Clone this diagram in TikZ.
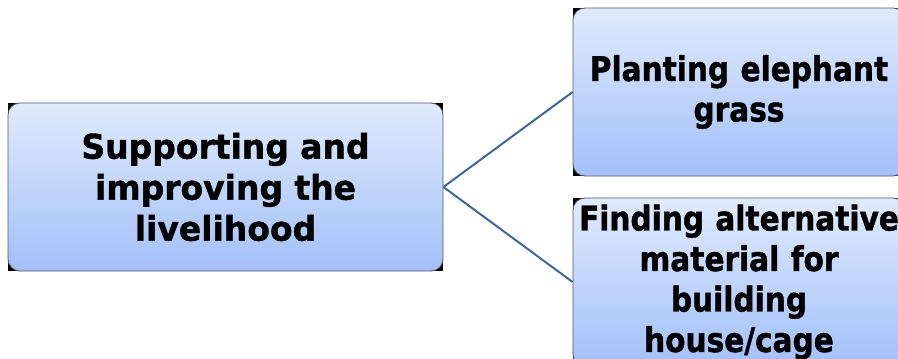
\documentclass[tikz,border=0pt]{standalone}
\usepackage{fontspec}
\setmainfont{DejaVu Sans}
\newfontfamily\goalfont[FakeStretch=0.97, BoldFeatures={FakeBold=1.2}]{DejaVu Sans}
\newfontfamily\actfont[FakeStretch=0.87, BoldFeatures={FakeBold=1.2}]{DejaVu Sans}
\usetikzlibrary{backgrounds}
\definecolor{boxtop}{RGB}{224,234,252}
\definecolor{boxbottom}{RGB}{163,192,249}
\definecolor{boxline}{RGB}{80,88,105}
\definecolor{linkblue}{RGB}{64,104,152}
\tikzstyle{PlanNode}=[rectangle, rounded corners=12pt, draw=boxline, line width=0.8pt, top color=boxtop, bottom color=boxbottom, align=center, inner sep=0pt, minimum height=168pt]
\tikzstyle{GoalNode}=[PlanNode, text width=435pt, font=\goalfont\fontsize{34}{41}\selectfont\bfseries]
\tikzstyle{ActNode}=[PlanNode, text width=332pt, font=\actfont\fontsize{34}{40.5}\selectfont\bfseries]
\tikzstyle{LinkEdge}=[draw=linkblue, line width=2pt]
\tikzset{>=latex}

\begin{document}
\begin{tikzpicture}[x=1pt, y=-1pt]
\useasboundingbox (0,0) rectangle (898,359);
\clip (0,0) rectangle (898,359);
\node[GoalNode](Goal) at (225.5,187) {Supporting and\\improving the\\livelihood};
\node[ActNode](Grass) at (739,92) {Planting elephant\\grass};
\node[ActNode](House) at (739,282) {Finding alternative\\material for\\building\\house/cage};

\begin{scope}[on background layer]
\fill[black] (Goal.south west) rectangle (Goal.north east);
\fill[black] (Grass.south west) rectangle (Grass.north east);
\fill[black] (House.south west) rectangle (House.north east);
\end{scope}

\draw[LinkEdge](Goal.east) -- (Grass.west);
\draw[LinkEdge](Goal.east) -- (House.west);
\end{tikzpicture}
\end{document}
